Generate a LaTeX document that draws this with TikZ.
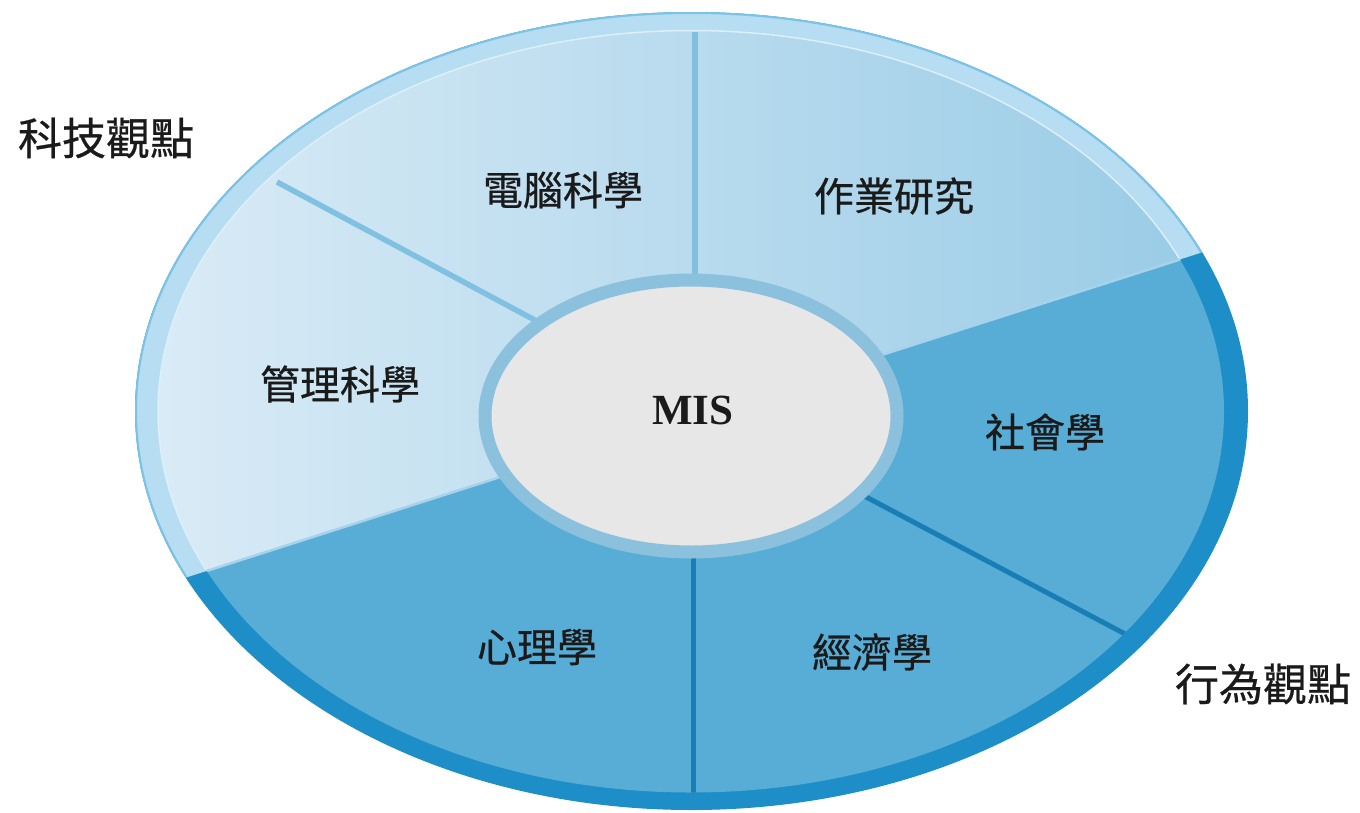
\documentclass[tikz,border=0pt]{standalone}
\usepackage{fontspec}
\setmainfont{Liberation Serif}
\newfontfamily\cjk[FakeBold=0.6]{Noto Sans CJK TC}
\usetikzlibrary{shapes.geometric}
\definecolor{rimlight}{HTML}{B6DDF1}
\definecolor{rimedge}{HTML}{7CC3E6}
\definecolor{rimhi}{HTML}{DDEFF8}
\definecolor{rimdark}{HTML}{1E8EC8}
\definecolor{segdark}{HTML}{58ADD6}
\definecolor{segleft}{HTML}{D9EBF6}
\definecolor{segright}{HTML}{98CBE6}
\definecolor{bordhi}{HTML}{A6D3EB}
\definecolor{divlight}{HTML}{80C1E2}
\definecolor{divdark}{HTML}{1A7EB6}
\definecolor{ringc}{HTML}{8CC1DE}
\definecolor{corec}{HTML}{E7E7E7}
\definecolor{txt}{HTML}{1A1A1A}
\begin{document}
\begin{tikzpicture}[x=1pt,y=-1pt,
  seglabel/.style={font=\cjk\fontsize{40}{40}\selectfont, text=txt, inner sep=0pt},
  persp/.style={font=\cjk\fontsize{44}{44}\selectfont, text=txt, inner sep=0pt},
  lightdiv/.style={draw=divlight, line width=5.5pt},
  darkdiv/.style={draw=divdark, line width=5pt},
]
\useasboundingbox (0,0) rectangle (1360,812);
% outer rim
\fill[rimdark] (691.5,411) ellipse [x radius=556.5, y radius=399];
\begin{scope}
  \clip (-20,643.5) -- (1400,189) -- (1400,-20) -- (-20,-20) -- cycle;
  \fill[rimlight, draw=rimedge, line width=2pt] (691.5,411) ellipse [x radius=555.5, y radius=398];
\end{scope}
% disc
\fill[segdark] (691,411.5) ellipse [x radius=533, y radius=381];
\begin{scope}
  \clip (-20,643.5) -- (1400,189) -- (1400,-20) -- (-20,-20) -- cycle;
  \shade[left color=segleft, right color=segright] (691,411.5) ellipse [x radius=533, y radius=381];
  \draw[rimhi, line width=1.5pt] (691,411.5) ellipse [x radius=533, y radius=381];
\end{scope}
% dividers
\coordinate (bl) at (140,592.3);
\coordinate (br) at (1240,240.3);
\coordinate (tvA) at (695,300);
\coordinate (tvB) at (695,32);
\coordinate (ulA) at (600,355);
\coordinate (ulB) at (277,182);
\coordinate (lrA) at (800,462);
\coordinate (lrB) at (1127,635);
\coordinate (bvA) at (693,530);
\coordinate (bvB) at (693,800);
\begin{scope}
  \clip (691,411.5) ellipse [x radius=533, y radius=381];
  \draw[bordhi, line width=2.5pt] (bl) -- (br);
  \draw[lightdiv] (tvA) -- (tvB);
  \draw[lightdiv] (ulA) -- (ulB);
  \draw[darkdiv] (lrA) -- (lrB);
  \draw[darkdiv] (bvA) -- (bvB);
\end{scope}
% centre
\node[ellipse, draw=ringc, fill=corec, line width=13pt, minimum width=412pt, minimum height=272pt, inner sep=0pt] (mis) at (691,416) {};
\node[font=\bfseries\fontsize{43}{43}\selectfont, text=txt, inner sep=0pt] (mislabel) at (693,410) {MIS};
% labels
\node[seglabel] (cs) at (563,190) {電腦科學};
\node[seglabel] (or) at (894,196) {作業研究};
\node[seglabel] (ms) at (340,384) {管理科學};
\node[seglabel] (soc) at (1045,432) {社會學};
\node[seglabel] (eco) at (872,652) {經濟學};
\node[seglabel] (psy) at (537,647) {心理學};
\node[persp] (tech) at (106,138) {科技觀點};
\node[persp] (beh) at (1263,684) {行為觀點};
\end{tikzpicture}
\end{document}
